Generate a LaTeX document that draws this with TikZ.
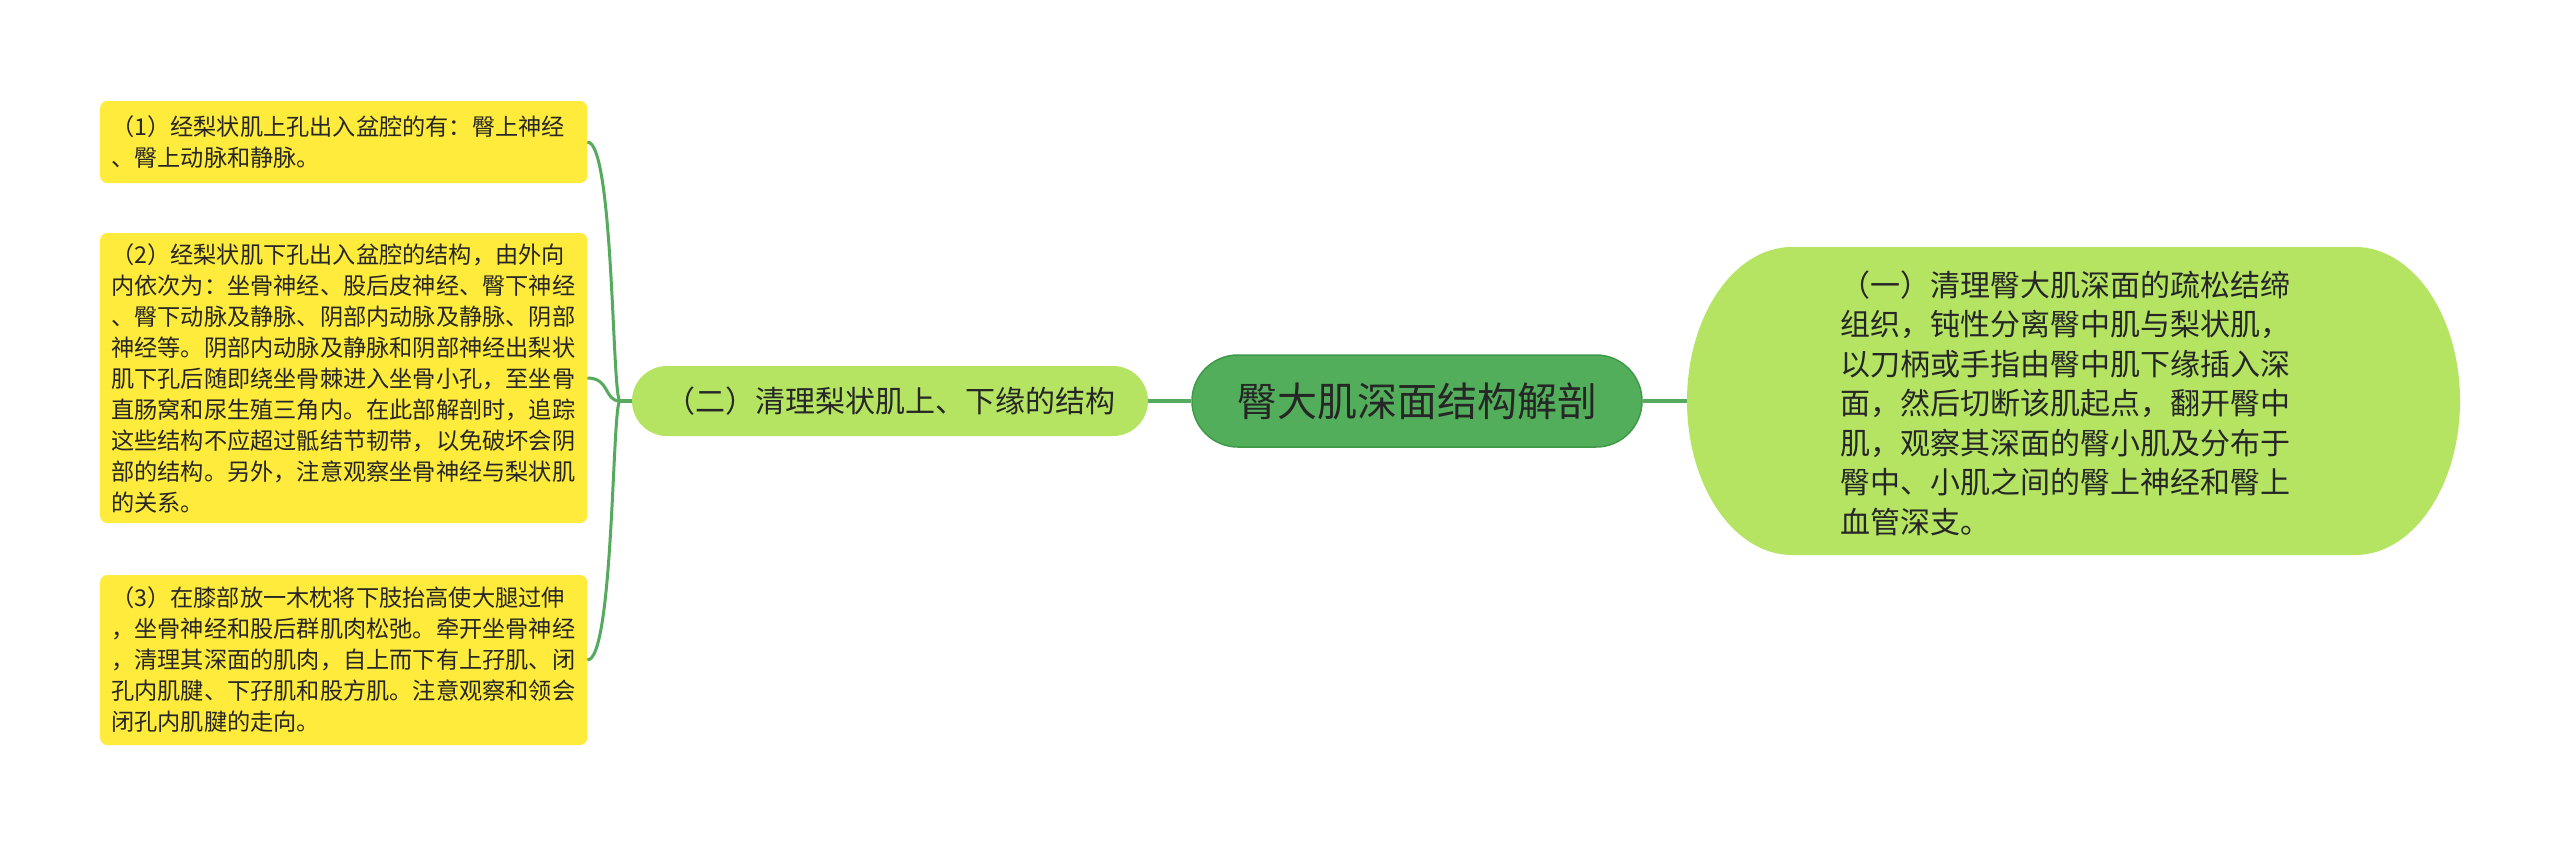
\documentclass[tikz,border=0pt]{standalone}
\usepackage{fontspec}
\setmainfont{Noto Sans CJK SC}
\usetikzlibrary{shapes.misc}
\definecolor{yel}{HTML}{FFEB3B}
\definecolor{lgreen}{HTML}{B5E462}
\definecolor{dgreen}{HTML}{52AE5A}
\definecolor{dgreenb}{HTML}{3F9A48}
\definecolor{linec}{HTML}{55AA5E}
\definecolor{txt}{HTML}{262626}
\begin{document}
\begin{tikzpicture}[x=1pt,y=-1pt]
\tikzset{
  leaf/.style={fill=yel, rounded corners=7pt, anchor=west, text width=465pt,
    inner xsep=11pt, inner ysep=0pt, align=left, text=txt,
    font=\fontsize{23.2}{31}\selectfont},
  branch/.style={rounded rectangle, fill=lgreen, inner sep=0pt, text=txt},
  rootbox/.style={rounded rectangle, fill=dgreen, draw=dgreenb, line width=1.5pt, inner sep=0pt, text=txt},
  conn/.style={draw=linec, line width=3.5pt},
}
\useasboundingbox (0,0) rectangle (2560,847);
\fill[white] (0,0) rectangle (2560,847);

% right node shape
\fill[lgreen] (1792,247) -- (2355,247)
  .. controls (2413,247) and (2460,316) .. (2460,401)
  .. controls (2460,486) and (2413,555) .. (2355,555)
  -- (1792,555)
  .. controls (1734,555) and (1687,486) .. (1687,401)
  .. controls (1687,316) and (1734,247) .. (1792,247) -- cycle;

\node[minimum width=773pt, minimum height=308pt, inner sep=0pt] (r) at (2073.5,401) {};
\node[anchor=west, align=left, inner sep=0pt, text=txt, font=\fontsize{30}{39.5}\selectfont] (rt) at (1840,403) {%
（一）清理臀大肌深面的疏松结缔\\
组织，钝性分离臀中肌与梨状肌，\\
以刀柄或手指由臀中肌下缘插入深\\
面，然后切断该肌起点，翻开臀中\\
肌，观察其深面的臀小肌及分布于\\
臀中、小肌之间的臀上神经和臀上\\
血管深支。};

\node[rootbox, minimum width=450pt, minimum height=92pt, font=\fontsize{40}{48}\selectfont] (root) at (1417,401) {臀大肌深面结构解剖};

\node[branch, minimum width=516pt, minimum height=70pt, font=\fontsize{30}{36}\selectfont] (er) at (890,401) {（二）清理梨状肌上、下缘的结构};

\node[leaf, minimum height=82pt] (b1) at (100,142) {%
（1）经梨状肌上孔出入盆腔的有：臀上神经\\
、臀上动脉和静脉。};

\node[leaf, minimum height=290pt] (b2) at (100,378) {%
（2）经梨状肌下孔出入盆腔的结构，由外向\\
内依次为：坐骨神经、股后皮神经、臀下神经\\
、臀下动脉及静脉、阴部内动脉及静脉、阴部\\
神经等。阴部内动脉及静脉和阴部神经出梨状\\
肌下孔后随即绕坐骨棘进入坐骨小孔，至坐骨\\
直肠窝和尿生殖三角内。在此部解剖时，追踪\\
这些结构不应超过骶结节韧带，以免破坏会阴\\
部的结构。另外，注意观察坐骨神经与梨状肌\\
的关系。};

\node[leaf, minimum height=170pt] (b3) at (100,660) {%
（3）在膝部放一木枕将下肢抬高使大腿过伸\\
，坐骨神经和股后群肌肉松弛。牵开坐骨神经\\
，清理其深面的肌肉，自上而下有上孖肌、闭\\
孔内肌腱、下孖肌和股方肌。注意观察和领会\\
闭孔内肌腱的走向。};

\coordinate (j) at (620,401);

\draw[conn] (root.east) -- (r.west);
\draw[conn] (er.east) -- (root.west);
\draw[conn] (j) -- (er.west);
\draw[conn, line width=3pt] (b1.east) .. controls (614,142) and (612,401) .. (j);
\draw[conn, line width=3pt] (b2.east) .. controls (610,378) and (604,401) .. (j);
\draw[conn, line width=3pt] (b3.east) .. controls (614,660) and (612,401) .. (j);
\end{tikzpicture}
\end{document}
